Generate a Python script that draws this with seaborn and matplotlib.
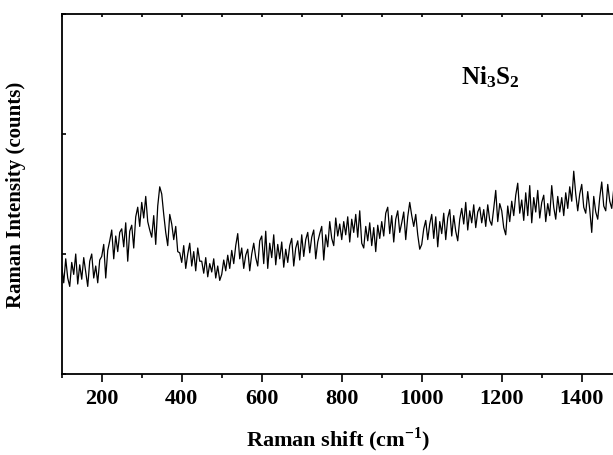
import numpy as np
import pandas as pd
import matplotlib
matplotlib.use('Agg')
import matplotlib.pyplot as plt
import seaborn as sns

# Raman shift grid (cm^-1) and intensities
raman_shift = np.arange(100, 1485, 5)
intensity = [
    900, 760, 960, 800, 730, 930, 830, 1000, 750, 910,
    790, 970, 850, 730, 940, 1000, 800, 900, 760, 950,
    980, 1080, 800, 1030, 1110, 1200, 960, 1150, 1020, 1180,
    1210, 1060, 1260, 940, 1190, 1240, 1050, 1310, 1390, 1230,
    1430, 1300, 1480, 1270, 1200, 1140, 1320, 1080, 1400, 1560,
    1500, 1330, 1180, 1070, 1330, 1250, 1120, 1230, 1020, 1010,
    930, 1070, 880, 1000, 1090, 900, 1020, 860, 1050, 940,
    940, 840, 970, 810, 920, 850, 960, 800, 900, 780,
    830, 950, 860, 990, 880, 1030, 920, 1070, 1170, 960,
    1050, 880, 990, 1040, 860, 1000, 1090, 970, 900, 1110,
    1150, 920, 1190, 880, 1090, 970, 1160, 910, 1080, 960,
    1100, 890, 1040, 930, 1070, 1130, 900, 1050, 1110, 950,
    1160, 980, 1120, 1180, 1010, 1140, 1200, 960, 1100, 1170,
    1230, 950, 1160, 1060, 1270, 1130, 1070, 1300, 1150, 1250,
    1120, 1270, 1160, 1310, 1100, 1290, 1180, 1330, 1140, 1360,
    1090, 1050, 1230, 1110, 1260, 1070, 1220, 1020, 1240, 1130,
    1270, 1150, 1340, 1390, 1170, 1320, 1100, 1290, 1360, 1180,
    1260, 1350, 1120, 1310, 1430, 1320, 1230, 1330, 1160, 1040,
    1080, 1210, 1280, 1120, 1250, 1330, 1130, 1310, 1060, 1270,
    1170, 1340, 1120, 1300, 1370, 1150, 1320, 1190, 1110, 1290,
    1380, 1250, 1430, 1200, 1360, 1260, 1410, 1220, 1350, 1390,
    1260, 1370, 1230, 1410, 1280, 1240, 1380, 1530, 1270, 1420,
    1360, 1220, 1160, 1400, 1270, 1440, 1320, 1490, 1590, 1340,
    1450, 1280, 1510, 1320, 1570, 1260, 1470, 1350, 1530, 1300,
    1430, 1490, 1270, 1420, 1320, 1570, 1390, 1290, 1480, 1350,
    1470, 1320, 1510, 1380, 1560, 1440, 1690, 1500, 1360, 1500,
    1580, 1390, 1340, 1520, 1370, 1180, 1480, 1350, 1290, 1470,
    1600, 1400, 1360, 1580, 1440, 1380, 1540,
]
x_ticks = [200, 400, 600, 800, 1000, 1200, 1400]
y_ticks = [0, 1000, 2000, 3000]
sample_label = r'$\mathbf{Ni_3S_2}$'

df = pd.DataFrame({'shift': raman_shift, 'intensity': intensity})

sns.set_style('ticks')
plt.rcParams['font.family'] = ['Liberation Serif', 'DejaVu Serif']
plt.rcParams['font.weight'] = 'bold'
plt.rcParams['mathtext.fontset'] = 'custom'
plt.rcParams['mathtext.rm'] = 'Liberation Serif'
plt.rcParams['mathtext.bf'] = 'Liberation Serif:bold'
for key in ['text.color', 'axes.labelcolor', 'xtick.color', 'ytick.color', 'axes.edgecolor']:
    plt.rcParams[key] = 'black'

fig = plt.figure(figsize=(6.13, 4.56), dpi=100)
ax = fig.add_axes([0.1007, 0.1776, 0.9005, 0.7895])

sns.lineplot(data=df, x='shift', y='intensity', color='black', linewidth=0.9, ax=ax)

ax.set_xlim(100, 1480)
ax.set_ylim(0, 3000)
ax.set_xticks(x_ticks)
ax.set_xticks(np.arange(100, 1500, 200), minor=True)
ax.set_yticks(y_ticks)
ax.set_yticklabels([])

for sp in ['left', 'bottom', 'top']:
    ax.spines[sp].set_linewidth(1.3)
ax.spines['right'].set_visible(False)

ax.tick_params(axis='x', which='both', direction='out', width=1.2, top=True, pad=4)
ax.tick_params(axis='x', which='major', length=6, labelsize=16)
ax.tick_params(axis='x', which='minor', length=3)
ax.tick_params(axis='y', which='major', direction='in', length=3, width=1.2)
for lab in ax.get_xticklabels():
    lab.set_fontweight('bold')
# the mirrored ticks on the top frame are tiny and point inwards
for t in ax.xaxis.get_major_ticks() + ax.xaxis.get_minor_ticks():
    t.tick2line.set_marker(3)
    t.tick2line.set_markersize(2)

ax.set_xlabel(r'Raman shift (cm$^{\mathbf{-1}}$)', fontsize=16, fontweight='bold', labelpad=12)
ax.set_ylabel('Raman Intensity (counts)', fontsize=15, fontweight='bold', labelpad=22)

ax.text(0.776, 0.828, sample_label, transform=ax.transAxes, fontsize=18,
        ha='center', va='center')

fig.savefig('out.png', dpi=100)
plt.close(fig)
